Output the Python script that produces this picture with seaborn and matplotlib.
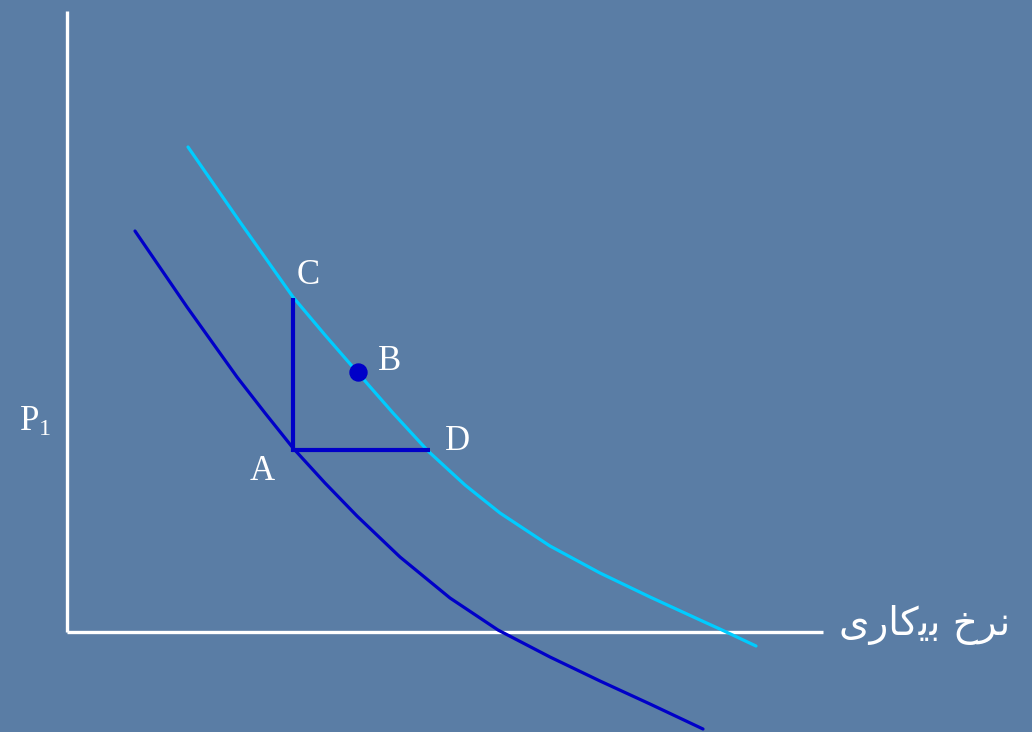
import seaborn as sns
import matplotlib.pyplot as plt
import pandas as pd

# curve points (pixel-like units, y grows downward)
upper_x = [188, 240, 293, 325, 358, 393, 428, 465, 500, 550, 600, 650, 700, 722, 756]
upper_y = [147, 222, 297, 335, 373, 413, 451, 485, 513, 546, 573, 597, 620, 630, 646]
lower_x = [135, 187, 237, 265, 293, 325, 357, 400, 450, 498, 550, 600, 650, 703]
lower_y = [231, 307, 377, 413, 448, 483, 516, 557, 598, 630, 657, 681, 704, 729]

point_names = ['A', 'B', 'C', 'D']
point_x = [293, 358, 293, 430]
point_y = [450, 372, 298, 450]

x_label = 'نرخ بیکاری'
y_label = 'P_1'

# matplotlib has no arabic shaping -> presentation forms in visual order
x_label_shaped = '\uFBFC\uFEAD\uFE8E\uFB90\uFBFE\uFE91 \uFEA5\uFEAE\uFEE7'

bg = '#5a7da5'
dark = '#0000c8'
light = '#00ccff'

sns.set_theme(style='white')
plt.rcParams['font.family'] = ['Liberation Serif', 'DejaVu Sans']

fig = plt.figure(figsize=(10.32, 7.32), dpi=100)
fig.patch.set_facecolor(bg)
ax = fig.add_axes([0, 0, 1, 1])
ax.set_facecolor(bg)
ax.set_xlim(0, 1032)
ax.set_ylim(732, 0)
ax.axis('off')

up = pd.DataFrame({'x': upper_x, 'y': upper_y})
lo = pd.DataFrame({'x': lower_x, 'y': lower_y})
pts = pd.DataFrame({'name': point_names, 'x': point_x, 'y': point_y}).set_index('name')

# axes lines
ax.plot([66.5, 66.5], [11, 632], color='white', lw=2.4, solid_capstyle='butt')
ax.plot([66.5, 823], [631.5, 631.5], color='white', lw=2.4, solid_capstyle='butt')

sns.lineplot(data=up, x='x', y='y', sort=False, estimator=None, color=light, lw=2.3,
             solid_joinstyle='round', ax=ax)
sns.lineplot(data=lo, x='x', y='y', sort=False, estimator=None, color=dark, lw=2.3,
             solid_joinstyle='round', ax=ax)

# A -> C and A -> D segments
a, c, d = pts.loc['A'], pts.loc['C'], pts.loc['D']
ax.plot([a.x, c.x], [a.y + 2, c.y], color=dark, lw=3, solid_capstyle='butt')
ax.plot([a.x - 1, d.x], [a.y, d.y], color=dark, lw=3, solid_capstyle='butt')

b = pts.loc['B']
sns.scatterplot(x=[b.x], y=[b.y], color=dark, s=150, edgecolor=dark, ax=ax, zorder=5)

label_off = {'A': (-31, 21), 'B': (32, -11), 'C': (15, -23), 'D': (28, -9)}
for n in point_names:
    dx, dy = label_off[n]
    ax.text(pts.loc[n].x + dx, pts.loc[n].y + dy, n, color='white', fontsize=25,
            ha='center', va='center', family='Liberation Serif')

ax.text(19, 422, r'$\mathregular{P_1}$', color='white', fontsize=25,
        ha='left', va='center', family='Liberation Serif')
ax.text(925, 625, x_label_shaped, color='white', fontsize=28,
        ha='center', va='center', family=['DejaVu Sans'])

fig.savefig('out.png', dpi=100, facecolor=bg)
